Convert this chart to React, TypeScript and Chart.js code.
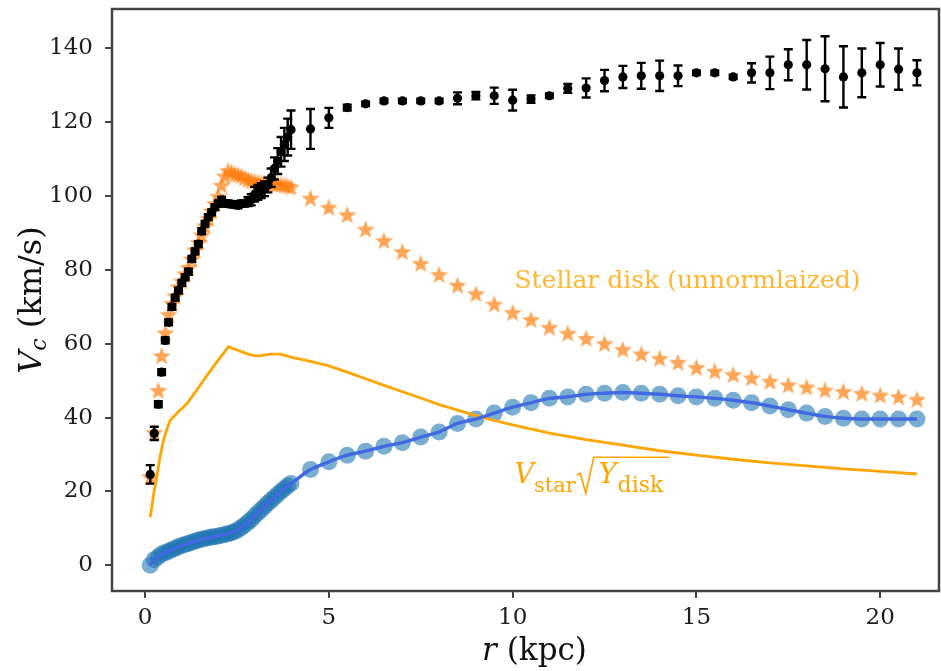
import React, { useEffect, useRef } from "react";
import { Chart, registerables } from "chart.js";

Chart.register(...registerables);

// Galactocentric radius (kpc) shared by the observed curve, the stellar-disk model and the fit
const radius = [
  0.14, 0.25, 0.36, 0.45, 0.55, 0.64, 0.73, 0.82, 0.91, 1.0, 1.09, 1.18, 1.27, 1.36, 1.45,
  1.54, 1.63, 1.72, 1.81, 1.9, 1.99, 2.08, 2.17, 2.26, 2.35, 2.44, 2.53, 2.62, 2.71, 2.8,
  2.89, 2.98, 3.07, 3.16, 3.25, 3.34, 3.43, 3.52, 3.61, 3.7, 3.79, 3.88, 3.97,
  4.5, 5.0, 5.5, 6.0, 6.5, 7.0, 7.5, 8.0, 8.5, 9.0, 9.5, 10.0, 10.5, 11.0, 11.5, 12.0,
  12.5, 13.0, 13.5, 14.0, 14.5, 15.0, 15.5, 16.0, 16.5, 17.0, 17.5, 18.0, 18.5, 19.0,
  19.5, 20.0, 20.5, 21.0,
];

// Observed circular velocity (km/s) and its uncertainty
const vObserved = [
  24.6, 35.7, 43.6, 52.3, 60.9, 65.8, 70, 72.5, 74.4, 76.5, 78, 79.5, 83, 85, 87,
  90.5, 92.5, 94.3, 95.6, 97, 98, 99, 98, 98, 97.8, 97.8, 97.5, 98, 98, 98.5,
  99, 100.5, 101, 101.5, 102, 103, 105, 107.5, 109.5, 112, 114, 116, 118,
  118.2, 121.2, 124, 125, 125.8, 125.8, 125.8, 125.8, 126.5, 127.2, 127.2, 126, 126.3, 127.2, 129.2, 129.3,
  131.3, 132.3, 132.6, 132.6, 132.6, 133.4, 133.4, 132.3, 133.4, 133.4, 135.6, 135.6, 134.5, 132.3,
  133.4, 135.6, 134.4, 133.4,
];
const vObservedErr = [
  2.5, 1.8, 0.8, 0.8, 0.8, 0.8, 0.8, 0.8, 0.8, 0.8, 0.8, 0.8, 0.8, 0.8, 0.8,
  0.8, 0.8, 0.8, 0.8, 0.8, 0.8, 0.8, 0.8, 0.8, 0.8, 0.8, 0.8, 0.8, 0.8, 1.2,
  1.5, 2, 2, 2, 2, 2, 2.5, 3, 3.5, 4, 4.5, 5, 5.2,
  5.4, 2.7, 0.8, 0.6, 0.6, 0.6, 0.6, 0.6, 1.6, 1.0, 2.2, 2.8, 1.0, 0.6, 1.2, 2.6,
  2.9, 3.0, 3.5, 4.1, 2.8, 0.6, 0.6, 0.6, 2.6, 4.4, 4.2, 6.7, 8.8, 8.3,
  6.6, 5.9, 5.6, 3.4,
];

// Stellar disk contribution before mass-to-light scaling (km/s)
const vStellarDisk = [
  24, 36, 47.4, 56.8, 63, 68, 71, 73, 75.5, 77, 79, 80.7, 83, 85.5, 87.5,
  89.5, 92, 94, 96, 98, 100, 103, 105.5, 107, 106.5, 106, 105.8, 105.5, 105, 104.5,
  104.2, 104, 103.8, 103.6, 103.5, 103.4, 103.4, 103.5, 103.4, 103.2, 103, 102.8, 102.5,
  99.5, 97, 95, 91.1, 88, 85, 81.8, 78.8, 75.9, 73.6, 70.8, 68.5, 66.6, 64.5, 62.9, 61.5,
  60.1, 58.5, 57.3, 56.1, 55, 53.6, 52.6, 51.7, 50.8, 49.9, 48.9, 48.3, 47.5, 47.1,
  46.6, 46.1, 45.7, 45.0,
];

// Fitted component (km/s)
const vFit = [
  0, 1.5, 2.3, 3.0, 3.4, 3.8, 4.2, 4.6, 5.0, 5.3, 5.6, 5.9, 6.2, 6.5, 6.8,
  7.0, 7.2, 7.4, 7.6, 7.7, 7.9, 8.1, 8.3, 8.5, 8.8, 9.1, 9.6, 10.2, 10.9, 11.6,
  12.4, 13.3, 14.2, 15.0, 15.9, 16.8, 17.6, 18.4, 19.2, 20.0, 20.8, 21.5, 22.1,
  25.9, 28.0, 29.8, 30.9, 32.2, 33.2, 34.7, 36.1, 38.4, 39.6, 41.2, 42.8, 44.0, 45.2, 45.6, 46.3,
  46.6, 46.8, 46.6, 46.3, 45.9, 45.6, 45.2, 44.7, 44.0, 43.1, 42.1, 41.2, 40.3, 39.8,
  39.6, 39.6, 39.6, 39.6,
];

// Scaled stellar disk curve V_star * sqrt(Y_disk)
const scaledRadius = [
  0.14, 0.23, 0.32, 0.41, 0.5, 0.6, 0.68, 0.9, 1.14, 1.36, 1.59, 1.8, 2.0, 2.27, 2.5,
  2.8, 3.0, 3.14, 3.4, 3.68, 4.0, 4.5, 5.0, 5.5, 6.0, 6.5, 7.0, 7.5, 8.0, 8.5,
  9.0, 9.5, 10, 11, 12, 13, 14, 15, 16, 17, 18, 19, 20, 21,
];
const vStarScaled = [
  13, 19, 24, 29.5, 33.8, 37, 39.2, 41.5, 43.8, 46.8, 50.1, 53, 55.7, 59.2, 58.3,
  57.2, 56.7, 56.8, 57.2, 57.2, 56.3, 55.2, 54, 52.3, 50.5, 48.7, 47, 45.3, 43.5, 42,
  40.5, 39.2, 38, 35.8, 34, 32.5, 31, 29.8, 28.7, 27.7, 26.9, 26.1, 25.4, 24.7,
];

const xTicks = [0, 5, 10, 15, 20];
const yTicks = [0, 20, 40, 60, 80, 100, 120, 140];

const SERIF = '"DejaVu Serif", serif';
const AXIS_COLOR = "#444";
const ORANGE = "#ffa500";

type Run = { text: string; font: string; dy?: number; dx?: number };

function measureRuns(ctx: CanvasRenderingContext2D, runs: Run[]) {
  let w = 0;
  for (const r of runs) {
    ctx.font = r.font;
    w += ctx.measureText(r.text).width + (r.dx || 0);
  }
  return w;
}

function drawRuns(ctx: CanvasRenderingContext2D, runs: Run[], x: number, y: number) {
  let cx = x;
  const pos: number[] = [];
  for (const r of runs) {
    ctx.font = r.font;
    cx += r.dx || 0;
    pos.push(cx);
    ctx.fillText(r.text, cx, y + (r.dy || 0));
    cx += ctx.measureText(r.text).width;
  }
  pos.push(cx);
  return pos;
}

function makeStar(color: string, outer: number, inner: number) {
  const size = Math.ceil(outer * 2 + 2);
  const c = document.createElement("canvas");
  c.width = size;
  c.height = size;
  const g = c.getContext("2d")!;
  g.translate(size / 2, size / 2 + 1);
  g.beginPath();
  for (let i = 0; i < 10; i++) {
    const r = i % 2 === 0 ? outer : inner;
    const a = -Math.PI / 2 + (i * Math.PI) / 5;
    const px = r * Math.cos(a);
    const py = r * Math.sin(a);
    if (i === 0) g.moveTo(px, py);
    else g.lineTo(px, py);
  }
  g.closePath();
  g.fillStyle = color;
  g.fill();
  return c;
}

const OBS_INDEX = 3;

const errorBarPlugin = {
  id: "errorBars",
  beforeDatasetDraw(chart: any, args: any) {
    if (args.index !== OBS_INDEX) return;
    const { ctx, scales } = chart;
    const xs = scales.x;
    const ys = scales.y;
    ctx.save();
    ctx.strokeStyle = "#000";
    ctx.lineWidth = 2.4;
    for (let i = 0; i < radius.length; i++) {
      const px = xs.getPixelForValue(radius[i]);
      const top = ys.getPixelForValue(vObserved[i] + vObservedErr[i]);
      const bot = ys.getPixelForValue(vObserved[i] - vObservedErr[i]);
      ctx.beginPath();
      ctx.moveTo(px, top);
      ctx.lineTo(px, bot);
      ctx.moveTo(px - 4.5, top);
      ctx.lineTo(px + 4.5, top);
      ctx.moveTo(px - 4.5, bot);
      ctx.lineTo(px + 4.5, bot);
      ctx.stroke();
    }
    ctx.restore();
  },
};

const framePlugin = {
  id: "frame",
  afterDraw(chart: any) {
    const { ctx, chartArea } = chart;
    ctx.save();
    ctx.strokeStyle = AXIS_COLOR;
    ctx.lineWidth = 2.5;
    ctx.strokeRect(
      chartArea.left,
      chartArea.top,
      chartArea.right - chartArea.left,
      chartArea.bottom - chartArea.top
    );
    ctx.restore();
  },
};

const labelPlugin = {
  id: "labels",
  afterDraw(chart: any) {
    const { ctx, chartArea, scales } = chart;
    const xs = scales.x;
    const ys = scales.y;
    ctx.save();
    ctx.textBaseline = "alphabetic";
    ctx.textAlign = "left";

    // x-axis title
    ctx.fillStyle = "#111";
    const xRuns: Run[] = [
      { text: "r", font: `italic 31px ${SERIF}` },
      { text: " (kpc)", font: `31px ${SERIF}` },
    ];
    const xw = measureRuns(ctx, xRuns);
    const xc = (chartArea.left + chartArea.right) / 2 + 9;
    drawRuns(ctx, xRuns, xc - xw / 2, 660);

    // y-axis title
    const yRuns: Run[] = [
      { text: "V", font: `italic 32px ${SERIF}` },
      { text: "c", font: `italic 22px ${SERIF}`, dy: 5 },
      { text: " (km/s)", font: `32px ${SERIF}` },
    ];
    const yw = measureRuns(ctx, yRuns);
    ctx.save();
    ctx.translate(41, (chartArea.top + chartArea.bottom) / 2);
    ctx.rotate(-Math.PI / 2);
    drawRuns(ctx, yRuns, -yw / 2, 0);
    ctx.restore();

    // stellar disk annotation
    ctx.fillStyle = "rgba(255,165,0,0.8)";
    ctx.font = `25px ${SERIF}`;
    ctx.fillText(
      "Stellar disk (unnormlaized)",
      xs.getPixelForValue(10.05),
      ys.getPixelForValue(75)
    );

    // scaled disk annotation: V_star sqrt(Y_disk)
    ctx.fillStyle = ORANGE;
    ctx.strokeStyle = ORANGE;
    const ax = xs.getPixelForValue(10.05);
    const ay = ys.getPixelForValue(22.2);
    const runs: Run[] = [
      { text: "V", font: `italic 27px ${SERIF}` },
      { text: "star", font: `21px ${SERIF}`, dy: 9 },
      { text: "Y", font: `italic 27px ${SERIF}`, dx: 23 },
      { text: "disk", font: `22px ${SERIF}`, dy: 9, dx: 1 },
    ];
    const p = drawRuns(ctx, runs, ax, ay);
    const rx = p[2] - 22;
    ctx.lineWidth = 1.7;
    ctx.lineJoin = "miter";
    ctx.beginPath();
    ctx.moveTo(rx, ay - 8);
    ctx.lineTo(rx + 3.5, ay - 10);
    ctx.lineTo(rx + 9, ay + 10);
    ctx.lineTo(rx + 17, ay - 26);
    ctx.lineTo(p[4] + 6, ay - 26);
    ctx.stroke();

    ctx.restore();
  },
};

export default function App() {
  const canvasRef = useRef<HTMLCanvasElement | null>(null);

  useEffect(() => {
    const canvas = canvasRef.current;
    if (!canvas) return;
    const star = makeStar("rgba(255,127,14,0.7)", 9.5, 4.0);

    const pts = (xs: number[], ys: number[]) => xs.map((x, i) => ({ x, y: ys[i] }));
    const fitPoints = pts(radius, vFit);

    const chart = new Chart(canvas, {
      type: "scatter",
      data: {
        datasets: [
          {
            label: "fit curve",
            data: fitPoints,
            showLine: true,
            borderColor: "#4169e1",
            borderWidth: 3.4,
            pointRadius: 0,
            cubicInterpolationMode: "monotone",
            order: 0,
          },
          {
            label: "scaled disk",
            data: pts(scaledRadius, vStarScaled),
            showLine: true,
            borderColor: ORANGE,
            borderWidth: 2.8,
            pointRadius: 0,
            order: 1,
          },
          {
            label: "fit points",
            data: fitPoints,
            pointRadius: 8.5,
            pointBackgroundColor: "rgba(31,119,180,0.6)",
            pointBorderWidth: 0,
            order: 2,
          },
          {
            label: "observed",
            data: pts(radius, vObserved),
            pointRadius: 4.6,
            pointBackgroundColor: "#000",
            pointBorderWidth: 0,
            order: 3,
          },
          {
            label: "stellar disk",
            data: pts(radius, vStellarDisk),
            pointStyle: star as any,
            pointRadius: 9,
            order: 4,
          },
        ],
      },
      options: {
        responsive: false,
        animation: false,
        events: [],
        layout: { autoPadding: false, padding: { top: 9, right: 2, left: 0, bottom: 0 } },
        plugins: {
          legend: { display: false },
          tooltip: { enabled: false },
        },
        scales: {
          x: {
            type: "linear",
            min: -0.9,
            max: 21.6,
            afterBuildTicks: (s: any) => {
              s.ticks = xTicks.map((v) => ({ value: v }));
            },
            afterFit: (s: any) => {
              s.height = 80;
              s.paddingLeft = 0;
              s.paddingRight = 0;
            },
            border: { display: false },
            grid: {
              drawOnChartArea: false,
              drawTicks: true,
              tickLength: 7,
              color: AXIS_COLOR,
              lineWidth: 2,
            },
            ticks: {
              font: { family: SERIF, size: 23 },
              color: "#1e1e1e",
              padding: 6,
              maxRotation: 0,
              autoSkip: false,
            },
          },
          y: {
            type: "linear",
            min: -7,
            max: 150.7,
            afterBuildTicks: (s: any) => {
              s.ticks = yTicks.map((v) => ({ value: v }));
            },
            afterFit: (s: any) => {
              s.width = 112;
              s.paddingTop = 0;
              s.paddingBottom = 0;
            },
            border: { display: false },
            grid: {
              drawOnChartArea: false,
              drawTicks: true,
              tickLength: 7,
              color: AXIS_COLOR,
              lineWidth: 2,
            },
            ticks: {
              font: { family: SERIF, size: 23 },
              color: "#1e1e1e",
              padding: 12,
              autoSkip: false,
            },
          },
        },
      },
      plugins: [errorBarPlugin, framePlugin, labelPlugin],
    });

    return () => chart.destroy();
  }, []);

  return (
    <div style={{ position: "fixed", left: 0, top: 0, width: 941, height: 671, background: "#fff" }}>
      <canvas ref={canvasRef} width={941} height={671} style={{ display: "block" }} />
    </div>
  );
}
